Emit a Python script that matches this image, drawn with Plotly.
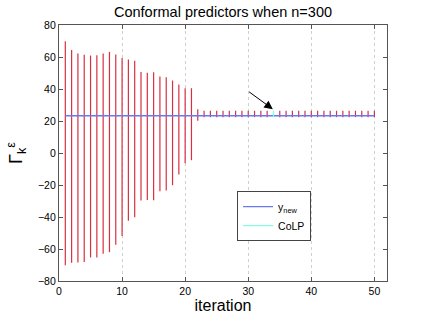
import plotly.graph_objects as go

iterations = list(range(1, 51))
upper = [69.9, 64.3, 62.2, 61.4, 60.9, 61.1, 62.2, 63.2, 61.6, 59.3,
         58.4, 57.6, 50.7, 50.1, 50.5, 47.8, 47.4, 45.3, 42.8, 40.5,
         40.5, 27.4] + [26.4] * 28
lower = [-70.1, -68.6, -68.4, -68.2, -65.3, -65.3, -63.0, -62.0, -57.4, -51.8,
         -42.4, -40.1, -29.7, -29.3, -29.5, -23.9, -23.4, -20.1, -13.4, -6.4,
         -4.5, 20.1] + [22.4] * 28
y_new = 23.25
colp_iter = 34

red_x, red_y = [], []
cx, cy = [], []
for it, lo, up in zip(iterations, lower, upper):
    if it == colp_iter:
        cx += [it, it, None]
        cy += [lo, up, None]
    else:
        red_x += [it, it, None]
        red_y += [lo, up, None]

fig = go.Figure()
fig.add_trace(go.Scatter(x=red_x, y=red_y, mode="lines",
                         line=dict(color="#d8303f", width=1.2),
                         showlegend=False, hoverinfo="skip"))
fig.add_trace(go.Scatter(x=[iterations[0], iterations[-1]], y=[y_new, y_new],
                         mode="lines", line=dict(color="#6878f0", width=1.4),
                         name="y<sub>new</sub>"))
fig.add_trace(go.Scatter(x=cx, y=cy, mode="lines",
                         line=dict(color="#80ffe0", width=1.2),
                         name="CoLP"))

fig.add_annotation(x=33.9, y=27.4, ax=29.9, ay=38.9, xref="x", yref="y",
                   axref="x", ayref="y", text="", showarrow=True,
                   arrowhead=2, arrowsize=1.7, arrowwidth=1, arrowcolor="black")

fig.update_layout(
    width=423, height=319,
    margin=dict(l=59, r=36, t=24.5, b=38.3),
    paper_bgcolor="white", plot_bgcolor="white",
    font=dict(family="Liberation Sans, Arial, sans-serif", color="black", size=10),
    title=dict(text="Conformal predictors when n=300", x=0.5, xref="paper",
               xanchor="center", y=1 - 12 / 319, yref="container", yanchor="middle",
               font=dict(size=14.5)),
    showlegend=True,
    legend=dict(x=0.543, y=0.351, xanchor="left", yanchor="top",
                bordercolor="#444", borderwidth=1, bgcolor="white",
                font=dict(size=10.5), itemwidth=30),
    xaxis=dict(range=[0, 52], tickvals=[0, 10, 20, 30, 40, 50],
               showgrid=True, gridcolor="#d0d0d0", griddash="dot", gridwidth=1,
               showline=True, linecolor="#555", linewidth=1.2, mirror="ticks",
               ticks="inside", ticklen=4, tickcolor="#555", zeroline=False,
               automargin=False, tickfont=dict(size=10.5),
               title=dict(text="iteration", font=dict(size=16), standoff=4)),
    yaxis=dict(range=[-80, 80], tickvals=list(range(-80, 81, 20)),
               showgrid=False, showline=True, linecolor="#555", linewidth=1.2,
               mirror="ticks", ticks="inside", ticklen=4, tickcolor="#555",
               zeroline=False, automargin=False, tickfont=dict(size=10.5),
               title=dict(text="Γ<sub>k</sub><sup>ε</sup>", font=dict(size=18),
                          standoff=10)),
)

fig.write_html("out.html", config={"displayModeBar": False},
               post_script="document.body.style.margin='0';")
